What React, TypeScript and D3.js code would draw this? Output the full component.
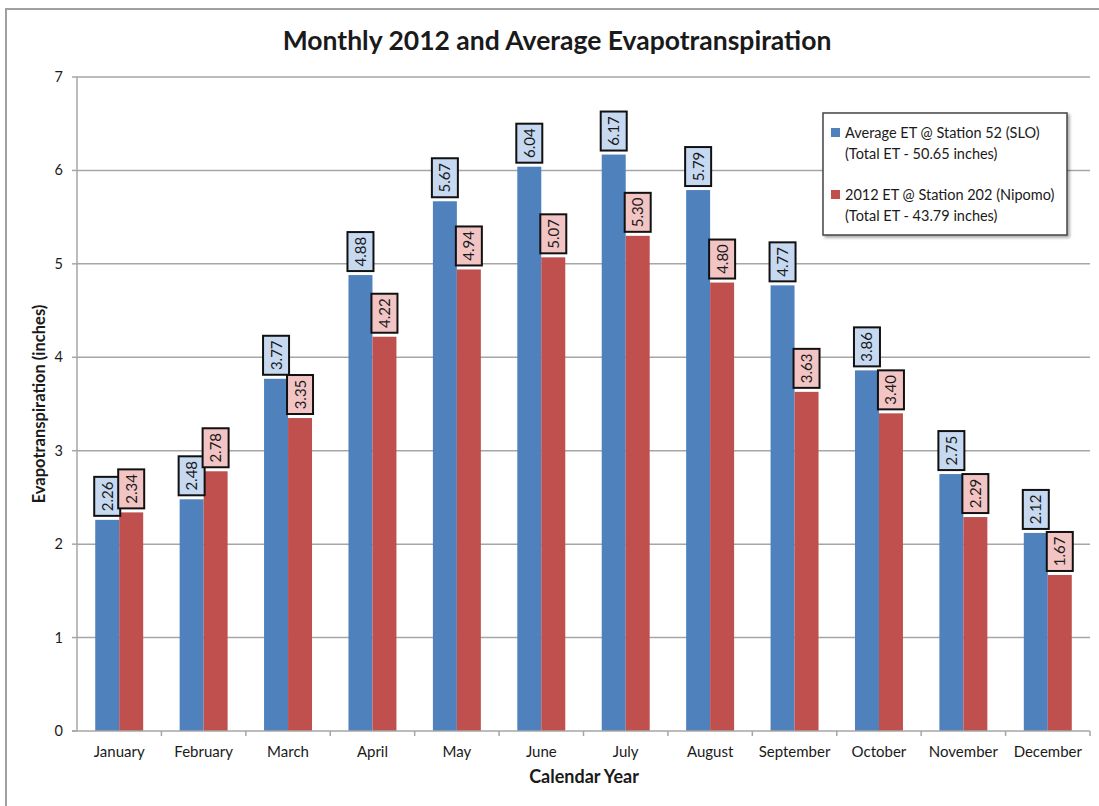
import React from "react";
import * as d3 from "d3";

const months = [
  "January", "February", "March", "April", "May", "June",
  "July", "August", "September", "October", "November", "December",
];
const avgET = [2.26, 2.48, 3.77, 4.88, 5.67, 6.04, 6.17, 5.79, 4.77, 3.86, 2.75, 2.12];
const et2012 = [2.34, 2.78, 3.35, 4.22, 4.94, 5.07, 5.3, 4.8, 3.63, 3.4, 2.29, 1.67];
const yTicks = [0, 1, 2, 3, 4, 5, 6, 7];
const seriesNames = ["Average ET @ Station 52 (SLO)", "2012 ET @ Station 202 (Nipomo)"];
const seriesTotals = ["(Total ET - 50.65 inches)", "(Total ET - 43.79 inches)"];

const W = 1099;
const H = 806;
const plot = { left: 77, right: 1090, top: 77, bottom: 731 };
const FONT = "Lato, 'Open Sans', sans-serif";

const colors = ["#4f81bd", "#c0504d"];
const labelFills = ["#c6d9f1", "#f2c5c4"];

export default function App() {
  const x = d3.scaleBand<string>().domain(months).range([plot.left, plot.right]).paddingInner(0).paddingOuter(0);
  const inner = d3.scaleBand<number>().domain([0, 1]).range([0, x.bandwidth()]).paddingInner(0).paddingOuter(0.76);
  const y = d3.scaleLinear().domain([0, 7]).range([plot.bottom, plot.top]);
  const series = [avgET, et2012];
  const boxW = 26;
  const boxH = 39;
  const gridColor = "#a6a6a6";

  return (
    <svg
      width={W}
      height={H}
      style={{ position: "absolute", left: 0, top: 0, background: "#fff" }}
      fontFamily={FONT}
    >
      <defs>
        <filter id="legendShadow" x="-10%" y="-10%" width="130%" height="130%">
          <feDropShadow dx="2" dy="2" stdDeviation="1.5" floodColor="#000" floodOpacity="0.35" />
        </filter>
      </defs>
      {/* outer chart frame */}
      <rect x={6} y={9} width={W + 20} height={H + 20} fill="#fff" stroke="#a0a0a0" strokeWidth={2} />

      <text x={557} y={50} textAnchor="middle" fontSize={26.5} fontWeight="bold" fill="#1a1a1a">
        Monthly 2012 and Average Evapotranspiration
      </text>

      {/* gridlines */}
      {yTicks.filter((t) => t > 0).map((t) => (
        <line key={t} x1={plot.left} x2={plot.right} y1={y(t)} y2={y(t)} stroke={gridColor} strokeWidth={1.5} />
      ))}

      {/* bars */}
      {months.map((m, i) =>
        series.map((s, k) => (
          <rect
            key={m + k}
            x={(x(m) as number) + (inner(k) as number)}
            y={y(s[i])}
            width={inner.bandwidth()}
            height={plot.bottom - y(s[i])}
            fill={colors[k]}
          />
        ))
      )}

      {/* axes */}
      <line x1={plot.left} x2={plot.left} y1={plot.top} y2={plot.bottom} stroke={gridColor} strokeWidth={1.5} />
      <line x1={plot.left - 5} x2={plot.right} y1={plot.bottom} y2={plot.bottom} stroke={gridColor} strokeWidth={1.5} />
      {yTicks.map((t) => (
        <g key={t}>
          <line x1={plot.left - 5} x2={plot.left} y1={y(t)} y2={y(t)} stroke={gridColor} strokeWidth={1.5} />
          <text x={63} y={y(t) + 5} textAnchor="end" fontSize={14.5} fill="#1a1a1a">
            {t}
          </text>
        </g>
      ))}
      {months.map((m) => (
        <line
          key={"tk" + m}
          x1={(x(m) as number) + x.bandwidth()}
          x2={(x(m) as number) + x.bandwidth()}
          y1={plot.bottom}
          y2={plot.bottom + 5}
          stroke={gridColor}
          strokeWidth={1.5}
        />
      ))}
      {months.map((m) => (
        <text
          key={"lb" + m}
          x={(x(m) as number) + x.bandwidth() / 2}
          y={757}
          textAnchor="middle"
          fontSize={15}
          fill="#1a1a1a"
        >
          {m}
        </text>
      ))}

      <text x={584} y={783} textAnchor="middle" fontSize={18} fontWeight="bold" fill="#1a1a1a">
        Calendar Year
      </text>
      <text
        transform={`translate(45, 404) rotate(-90)`}
        textAnchor="middle"
        fontSize={16.5}
        fontWeight="bold"
        fill="#1a1a1a"
      >
        Evapotranspiration (inches)
      </text>

      {/* value labels */}
      {months.map((m, i) =>
        series.map((s, k) => {
          const cx = (x(m) as number) + (inner(k) as number) + inner.bandwidth() / 2;
          const bottom = y(s[i]) - 4;
          const cy = bottom - boxH / 2;
          return (
            <g key={"v" + m + k}>
              <rect
                x={cx - boxW / 2}
                y={bottom - boxH}
                width={boxW}
                height={boxH}
                fill={labelFills[k]}
                stroke="#111"
                strokeWidth={2}
              />
              <text
                transform={`translate(${cx + 5.5}, ${cy}) rotate(-90)`}
                textAnchor="middle"
                fontSize={15}
                fill="#1a1a1a"
              >
                {s[i].toFixed(2)}
              </text>
            </g>
          );
        })
      )}

      {/* legend */}
      <g>
        <rect x={823} y={113} width={244} height={122} fill="#fff" stroke="#444" strokeWidth={1.5} filter="url(#legendShadow)" />
        {seriesNames.map((name, k) => (
          <g key={name}>
            <rect x={831} y={128 + k * 62} width={9} height={9} fill={colors[k]} />
            <text x={845} y={138 + k * 62} fontSize={14.5} fill="#1a1a1a">
              {name}
            </text>
            <text x={845} y={159 + k * 62} fontSize={14.5} fill="#1a1a1a">
              {seriesTotals[k]}
            </text>
          </g>
        ))}
      </g>
    </svg>
  );
}
